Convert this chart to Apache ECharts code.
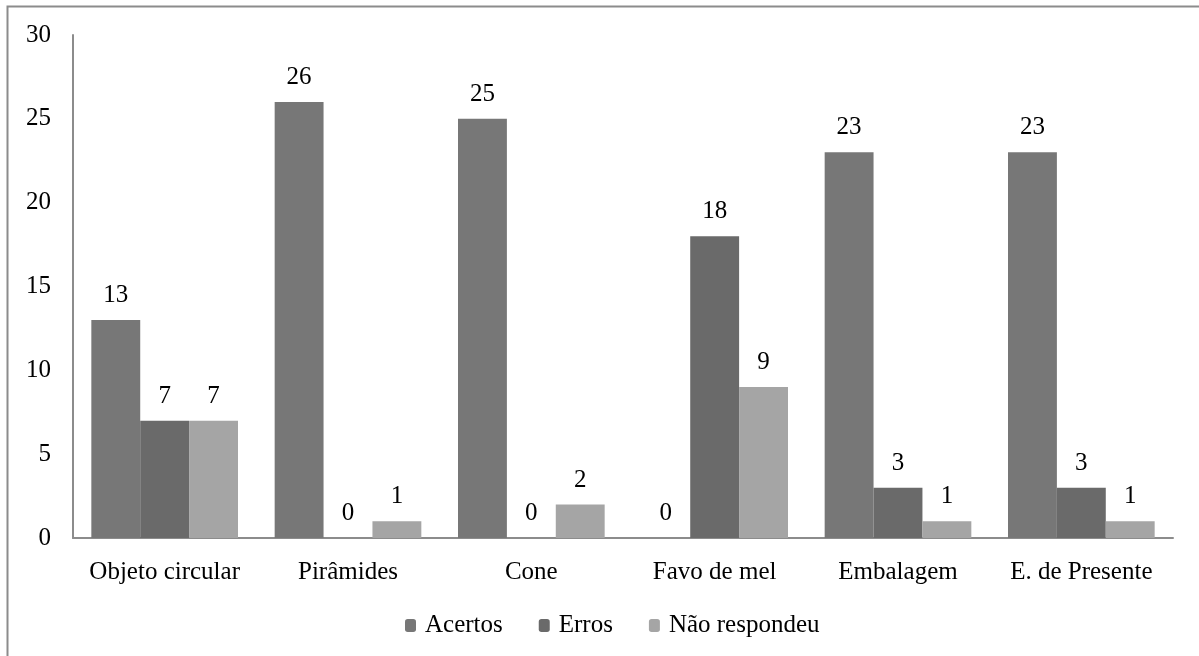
<!DOCTYPE html>
<html>
<head>
<meta charset="utf-8">
<script src="https://cdn.jsdelivr.net/npm/echarts@6/dist/echarts.min.js"></script>
<style>
  html, body { margin: 0; padding: 0; background: #fff; }
  #chart { width: 1199px; height: 656px; }
</style>
</head>
<body>
<div id="chart"></div>
<script>
var categories = ['Objeto circular', 'Pirâmides', 'Cone', 'Favo de mel', 'Embalagem', 'E. de Presente']
var acertos = [13, 26, 25, 0, 23, 23]
var erros = [7, 0, 0, 18, 3, 3]
var naoRespondeu = [7, 1, 2, 9, 1, 1]

var font = '"Liberation Serif", "DejaVu Serif", serif'
var fs = 25
var chart = echarts.init(document.getElementById('chart'))

function barSeries(name, data, color) {
  return {
    name: name,
    type: 'bar',
    barGap: 0,
    barCategoryGap: '20%',
    itemStyle: { color: color },
    label: {
      show: true,
      position: 'top',
      distance: 12,
      color: '#000',
      fontFamily: font,
      fontSize: fs
    },
    data: data
  }
}

chart.setOption({
  animation: false,
  textStyle: { fontFamily: font },
  graphic: [{
    type: 'rect',
    shape: { x: 7.5, y: 6.5, width: 1200, height: 660 },
    style: { fill: 'none', stroke: '#8c8c8c', lineWidth: 2 },
    silent: true
  }],
  legend: {
    bottom: 13,
    left: 400,
    itemWidth: 11,
    itemHeight: 13,
    itemGap: 36,
    textStyle: { color: '#000', fontFamily: font, fontSize: fs, padding: [0, 0, 0, 4] },
    data: ['Acertos', 'Erros', 'Não respondeu']
  },
  grid: { top: 35, left: 73, right: 26, bottom: 118 },
  xAxis: {
    type: 'category',
    data: categories,
    axisLine: { lineStyle: { color: '#8c8c8c', width: 2 } },
    axisTick: { show: false },
    axisLabel: { interval: 0, color: '#000', fontFamily: font, fontSize: fs, margin: 22 }
  },
  yAxis: {
    type: 'value',
    min: 0,
    max: 30,
    interval: 5,
    splitLine: { show: false },
    axisLine: { show: true, lineStyle: { color: '#8c8c8c', width: 2 } },
    axisTick: { show: false },
    axisLabel: { color: '#000', fontFamily: font, fontSize: fs, margin: 22 }
  },
  series: [
    barSeries('Acertos', acertos, '#777777'),
    barSeries('Erros', erros, '#6a6a6a'),
    barSeries('Não respondeu', naoRespondeu, '#a5a5a5')
  ]
})
</script>
</body>
</html>
